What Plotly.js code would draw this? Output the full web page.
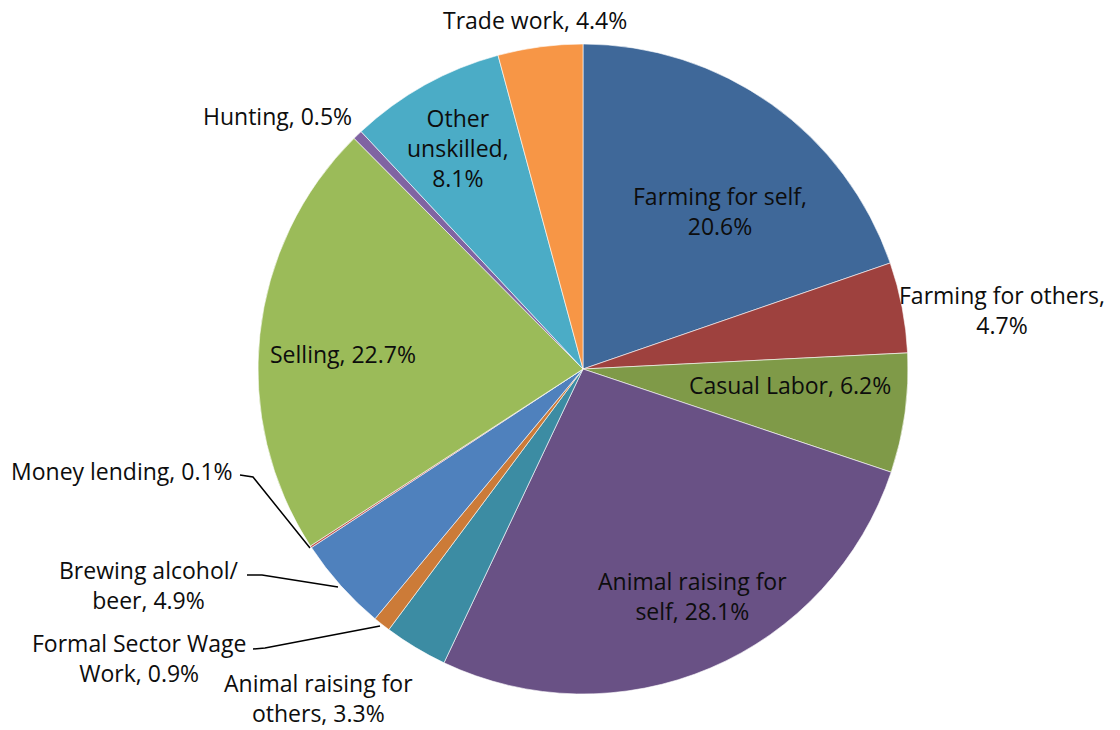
<!DOCTYPE html>
<html>
<head>
<meta charset="utf-8">
<script src="https://cdn.plot.ly/plotly-3.0.1.min.js"></script>
<style>html,body{margin:0;padding:0;background:#fff;}#chart{width:1120px;height:730px;}</style>
</head>
<body>
<div id="chart"></div>
<script>
// ---- data ----
const categories = ['Farming for self', 'Farming for others', 'Casual Labor', 'Animal raising for self',
  'Animal raising for others', 'Formal Sector Wage Work', 'Brewing alcohol/beer', 'Money lending',
  'Selling', 'Hunting', 'Other unskilled', 'Trade work'];
const values = [20.6, 4.7, 6.2, 28.1, 3.3, 0.9, 4.9, 0.1, 22.7, 0.5, 8.1, 4.4];

// ---- styling / label layout ----
const colors = ['#3F6899', '#9E413E', '#7F9A48', '#695185', '#3C8CA3', '#CC7B38',
  '#4F81BD', '#C0504D', '#9BBB59', '#8064A2', '#4BACC6', '#F79646'];
// label text wrapping templates ({n} = name, {v} = value)
const wrap = ['Farming for self,<br>{v}', 'Farming for others,<br>{v}', '{n}, {v}',
  'Animal raising for<br>self, {v}', 'Animal raising for<br>others, {v}', 'Formal Sector Wage<br>Work, {v}',
  'Brewing alcohol/<br>beer, {v}', '{n}, {v}', '{n}, {v}', '{n}, {v}', 'Other<br>unskilled,<br>{v}', '{n}, {v}'];
// label centre positions in pixels (layout only)
const labelPos = [[720, 211], [1002, 310], [790, 385], [692, 596], [318, 698], [139, 658],
  [149, 585], [122, 471], [343, 354], [277, 116], [458, 148], [535, 20]];
// leader lines (layout only): [x0,y0,x1,y1,x2,y2]
const leaders = [[240, 475, 253, 477, 310, 548], [247, 575, 262, 575, 338, 587], [253, 649, 265, 648, 380, 626]];

const W = 1120, H = 730;
const cx = 583, cy = 369, R = 325;

const texts = categories.map((c, i) => wrap[i].replace('{n}', c).replace('{v}', values[i].toFixed(1) + '%'));

const trace = {
  type: 'pie',
  labels: categories,
  values: values,
  sort: false,
  direction: 'clockwise',
  rotation: 0,
  textinfo: 'none',
  hoverinfo: 'label+value',
  marker: {colors: colors, line: {color: '#ffffff', width: 0.6}},
  domain: {x: [(cx - R) / W, (cx + R) / W], y: [(H - cy - R) / H, (H - cy + R) / H]},
  showlegend: false
};

const annotations = texts.map((t, i) => ({
  xref: 'paper', yref: 'paper',
  x: labelPos[i][0] / W, y: 1 - labelPos[i][1] / H,
  xanchor: 'center', yanchor: 'middle',
  text: t, showarrow: false, align: 'center',
  font: {family: '"Open Sans", Lato, sans-serif', size: 23, color: '#0d0d0d'}
}));

const shapes = leaders.map(l => ({
  type: 'path', xref: 'paper', yref: 'paper',
  path: `M${l[0] / W},${1 - l[1] / H} L${l[2] / W},${1 - l[3] / H} L${l[4] / W},${1 - l[5] / H}`,
  line: {color: '#000', width: 1.5}
}));

const layout = {
  width: W, height: H,
  margin: {l: 0, r: 0, t: 0, b: 0},
  paper_bgcolor: '#fff',
  annotations: annotations,
  shapes: shapes
};

Plotly.newPlot('chart', [trace], layout, {displayModeBar: false, staticPlot: true});
</script>
</body>
</html>
